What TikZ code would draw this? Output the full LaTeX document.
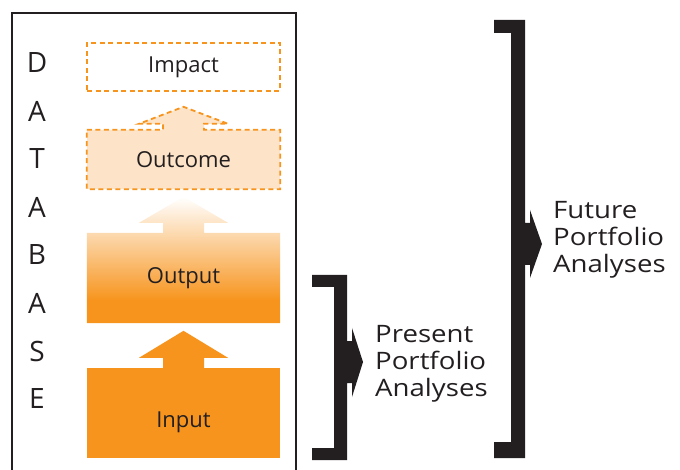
\documentclass[tikz,border=0pt]{standalone}
\usepackage{fontspec}
\setmainfont{Open Sans}
\newfontfamily\widefont[FakeStretch=1.15]{Open Sans}
\usetikzlibrary{calc,positioning,backgrounds}
\definecolor{orng}{HTML}{F7941D}
\definecolor{paleorng}{HTML}{FDE3C7}
\definecolor{ink}{HTML}{231F20}
\pgfdeclareverticalshading{outfade}{100bp}{color(0bp)=(orng); color(34bp)=(orng); color(75bp)=(white); color(100bp)=(white)}
\tikzset{
    stage/.style={minimum width=193pt, minimum height=#1, inner sep=0pt, text=ink,
        font=\fontsize{22}{26}\selectfont},
    dashbox/.style={draw=orng, line width=1.8pt, dash pattern=on 5pt off 3.5pt},
    dbletter/.style={inner sep=0pt, text=ink, font=\fontsize{28}{30}\selectfont},
    bracket/.style={fill=ink},
    bracketlbl/.style={align=left, anchor=north west, inner sep=0pt, text=ink,
        font=\widefont\fontsize{24}{27}\selectfont}
}

\begin{document}
\begin{tikzpicture}[x=1pt, y=-1pt]
    \useasboundingbox (0,0) rectangle (680,470);
    % database frame, open at the bottom
    \draw[line width=2.5pt, ink] (12,13) rectangle (296,490);
    \foreach \c [count=\i] in {D,A,T,A,B,A,S,E}
        \node[dbletter] (db\i) at (37, 15+48*\i) {\c};
    % stages
    \node[stage=48pt, dashbox] (impact) at (183.5,67) {Impact};
    \node[stage=59pt] (outcome) at (183.5,159.5) {Outcome};
    \node[stage=90pt] (output) at (183.5,278) {Output};
    \node[stage=90pt, fill=orng, text height=32pt, text depth=4pt] (input) at (183.5,413) {Input};
    \begin{scope}[on background layer]
    % outcome box and its arrow share one dashed outline
    \filldraw[fill=paleorng, dashbox] (outcome.north west) -- ($(outcome.north)+(-20.5,0)$) -- ++(0,-6) -- ++(-24,0)
        -- ($(outcome.north)+(0,-23)$) -- ($(outcome.north)+(44.5,-6)$) -- ++(-24,0)
        -- ($(outcome.north)+(20.5,0)$) -- (outcome.north east) -- (outcome.south east) -- (outcome.south west) -- cycle;
    \path[shading=outfade] (output.north west) -- ($(output.north)+(-20.5,0)$) -- ++(0,-10) -- ++(-24,0)
        -- ($(output.north)+(0,-36)$) -- ($(output.north)+(44.5,-10)$) -- ++(-24,0)
        -- ($(output.north)+(20.5,0)$) -- (output.north east) -- (output.south east) -- (output.south west) -- cycle;
    \fill[orng] ($(input.north)+(-20.5,1)$) -- ++(0,-11) -- ++(-24,0)
        -- ($(input.north)+(0,-37)$) -- ($(input.north)+(44.5,-10)$) -- ++(-24,0)
        -- ($(input.north)+(20.5,1)$) -- cycle;
    \end{scope}
    % brackets
    \fill[bracket] (312,275) -- (347,275) -- (347,341) -- (352,341) -- (352,328) -- (363,362) -- (352,397) -- (352,383)
        -- (347,383) -- (347,460) -- (312,460) -- (312,448) -- (334,448) -- (334,287) -- (312,287) -- cycle;
    \fill[bracket] (494,20) -- (525,20) -- (525,223) -- (530,223) -- (530,210) -- (542,244) -- (530,278) -- (530,265)
        -- (525,265) -- (525,458) -- (494,458) -- (494,442) -- (511,442) -- (511,33) -- (494,33) -- cycle;
    \node[bracketlbl] (present) at (375,325) {Present\\Portfolio\\Analyses};
    \node[bracketlbl] (future) at (553,201) {Future\\Portfolio\\Analyses};
\end{tikzpicture}
\end{document}
